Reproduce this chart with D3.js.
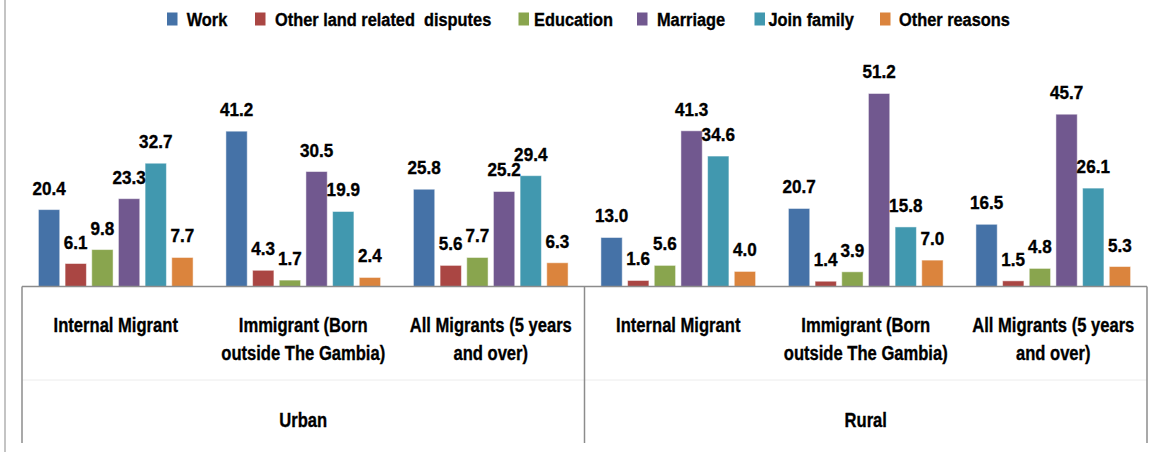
<!DOCTYPE html>
<html>
<head>
<meta charset="utf-8">
<script src="https://cdn.jsdelivr.net/npm/d3@7"></script>
<style>
  body { margin: 0; background: #fff; }
  text { font-family: "Liberation Sans", Arial, sans-serif; font-weight: bold; fill: #000; stroke: #000; stroke-width: 0.35px; }
</style>
</head>
<body>
<div id="chart"></div>
<script>
// data
const series = ["Work", "Other land related  disputes", "Education", "Marriage", "Join family", "Other reasons"];
const colors = ["#4572A7", "#AA4643", "#89A54E", "#71588F", "#4198AF", "#DB843D"];
const areas = ["Urban", "Rural"];
const migrantTypes = [
  ["Internal Migrant"],
  ["Immigrant (Born", "outside The Gambia)"],
  ["All Migrants (5 years", "and over)"]
];
const urbanValues = [
  [20.4, 6.1, 9.8, 23.3, 32.7, 7.7],
  [41.2, 4.3, 1.7, 30.5, 19.9, 2.4],
  [25.8, 5.6, 7.7, 25.2, 29.4, 6.3]
];
const ruralValues = [
  [13.0, 1.6, 5.6, 41.3, 34.6, 4.0],
  [20.7, 1.4, 3.9, 51.2, 15.8, 7.0],
  [16.5, 1.5, 4.8, 45.7, 26.1, 5.3]
];

const W = 1157, H = 452;
const margin = {left: 22, right: 1147, base: 286.5};

// the original font is a narrow one, so squeeze Liberation Sans sideways
function narrowText(parent, x, y, size, sx, anchor) {
  return parent.append("text")
    .attr("transform", `translate(${x},${y}) scale(${sx},1)`)
    .attr("font-size", size)
    .attr("text-anchor", anchor || "middle");
}

let groups = [];
areas.forEach((a, ai) => {
  let vals = ai == 0 ? urbanValues : ruralValues;
  migrantTypes.forEach((m, mi) => {
    groups.push({area: a, label: m, key: a + mi, values: vals[mi]});
  });
});

const svg = d3.select("#chart").append("svg")
  .attr("width", W)
  .attr("height", H);

// outer border on the left
svg.append("line")
  .attr("x1", 5).attr("x2", 5).attr("y1", 0).attr("y2", H)
  .attr("stroke", "#b0b0b0").attr("stroke-width", 1.5);

const x0 = d3.scaleBand()
  .domain(groups.map(d => d.key))
  .range([margin.left, margin.right]);

const x1 = d3.scaleBand()
  .domain(series)
  .range([0, x0.bandwidth()])
  .paddingInner(0.2)
  .paddingOuter(0.615);

const y = d3.scaleLinear()
  .domain([0, 60])
  .range([margin.base, margin.base - 226.2]);

const color = d3.scaleOrdinal().domain(series).range(colors);

// bars
const g = svg.selectAll(".grp")
  .data(groups)
  .enter().append("g")
  .attr("class", "grp")
  .attr("transform", d => `translate(${x0(d.key)},0)`);

g.selectAll("rect")
  .data(d => d.values.map((v, i) => ({s: series[i], v: v})))
  .enter().append("rect")
  .attr("x", d => x1(d.s))
  .attr("y", d => y(d.v))
  .attr("width", x1.bandwidth())
  .attr("height", d => y(0) - y(d.v))
  .attr("fill", d => color(d.s))
  .attr("stroke", "#ffffff")
  .attr("stroke-opacity", 0.5)
  .attr("stroke-width", 1);

g.each(function(d) {
  let gg = d3.select(this);
  d.values.forEach((v, i) => {
    narrowText(gg, x1(series[i]) + x1.bandwidth() / 2, y(v) - 15, 18, 0.95)
      .text(v.toFixed(1));
  });
});

// axis lines
const axisColor = "#8c8c8c";
svg.append("line")
  .attr("x1", margin.left).attr("x2", margin.right)
  .attr("y1", y(0)).attr("y2", y(0))
  .attr("stroke", axisColor).attr("stroke-width", 1.5);

svg.append("line")
  .attr("x1", margin.left).attr("x2", margin.right)
  .attr("y1", 380).attr("y2", 380)
  .attr("stroke", "#ececec").attr("stroke-width", 1);

const areaEdges = [margin.left, x0(groups[3].key), margin.right];
areaEdges.forEach(xe => {
  svg.append("line")
    .attr("x1", xe).attr("x2", xe)
    .attr("y1", y(0)).attr("y2", 443)
    .attr("stroke", axisColor).attr("stroke-width", 1.5);
});

// category labels
groups.forEach(d => {
  let t = narrowText(svg, x0(d.key) + x0.bandwidth() / 2, 332, 21, 0.79);
  d.label.forEach((line, i) => {
    t.append("tspan")
      .attr("x", 0)
      .attr("dy", i == 0 ? 0 : 28)
      .text(line);
  });
});

areas.forEach((a, ai) => {
  narrowText(svg, (areaEdges[ai] + areaEdges[ai + 1]) / 2, 426.5, 21, 0.79)
    .text(a);
});

// legend
const legendX = [167, 255, 518.5, 637, 754.5, 880];
const legendGap = [19.7, 20, 15.5, 20, 14, 19];
const legend = svg.append("g").attr("class", "legend");
series.forEach((s, i) => {
  legend.append("rect")
    .attr("x", legendX[i]).attr("y", 12.5)
    .attr("width", 10.5).attr("height", 13)
    .attr("fill", color(s));
  narrowText(legend, legendX[i] + legendGap[i], 25.7, 18.6, 0.88, "start")
    .attr("xml:space", "preserve")
    .style("white-space", "pre")
    .text(s);
});
</script>
</body>
</html>
